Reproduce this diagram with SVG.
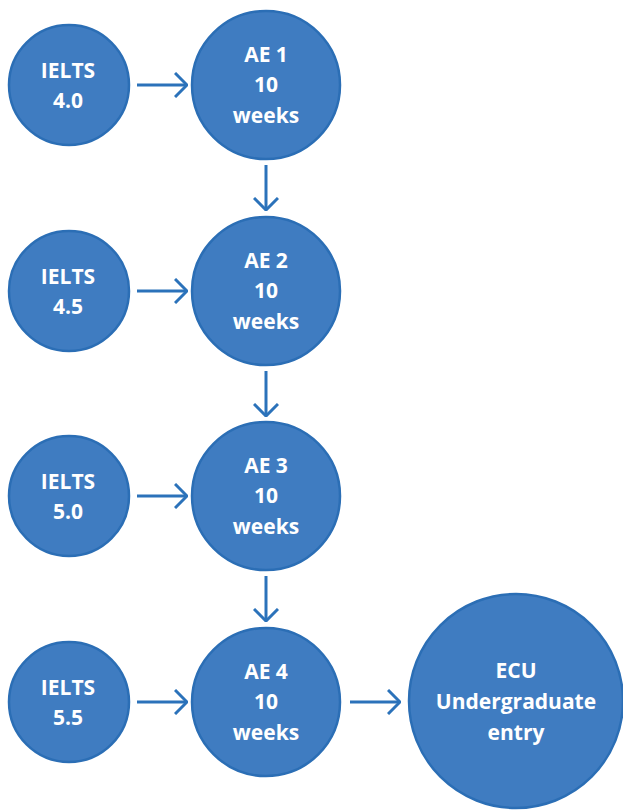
<svg xmlns="http://www.w3.org/2000/svg" width="623" height="810" viewBox="0 0 623 810">
<style>
.n{fill:#3f7cc1;stroke:#2b6eb5;stroke-width:2.5}
.t{font-family:"Open Sans",sans-serif;font-weight:700;font-size:21px;fill:#fff;text-anchor:middle}
.c{stroke:#2b72ba;stroke-width:3;fill:none}
</style>
<defs>
<marker id="a" viewBox="0 0 14 26" refX="13" refY="13" markerWidth="14" markerHeight="26" markerUnits="userSpaceOnUse" orient="auto">
<path d="M1,1 L13,13 L1,25" fill="none" stroke="#2b72ba" stroke-width="3"/>
</marker>
</defs>
<g id="connectors">
<line class="c" x1="137" y1="85" x2="187" y2="85" marker-end="url(#a)"/>
<line class="c" x1="137" y1="291" x2="187" y2="291" marker-end="url(#a)"/>
<line class="c" x1="137" y1="496" x2="187" y2="496" marker-end="url(#a)"/>
<line class="c" x1="137" y1="702" x2="187" y2="702" marker-end="url(#a)"/>
<line class="c" x1="350" y1="702" x2="400" y2="702" marker-end="url(#a)"/>
<line class="c" x1="266" y1="165" x2="266" y2="210" marker-end="url(#a)"/>
<line class="c" x1="266" y1="371" x2="266" y2="416" marker-end="url(#a)"/>
<line class="c" x1="266" y1="576" x2="266" y2="621" marker-end="url(#a)"/>
</g>
<g id="ielts40"><circle class="n" cx="69" cy="85" r="60"/><text class="t" x="68" y="78">IELTS</text><text class="t" x="68" y="108">4.0</text></g>
<g id="ielts45"><circle class="n" cx="69" cy="291" r="60"/><text class="t" x="68" y="284">IELTS</text><text class="t" x="68" y="314">4.5</text></g>
<g id="ielts50"><circle class="n" cx="69" cy="496" r="60"/><text class="t" x="68" y="489">IELTS</text><text class="t" x="68" y="519">5.0</text></g>
<g id="ielts55"><circle class="n" cx="69" cy="702" r="60"/><text class="t" x="68" y="695">IELTS</text><text class="t" x="68" y="725">5.5</text></g>
<g id="ae1"><circle class="n" cx="266" cy="85" r="74"/><text class="t" x="266" y="62">AE 1</text><text class="t" x="266" y="92">10</text><text class="t" x="266" y="123">weeks</text></g>
<g id="ae2"><circle class="n" cx="266" cy="291" r="74"/><text class="t" x="266" y="268">AE 2</text><text class="t" x="266" y="298">10</text><text class="t" x="266" y="329">weeks</text></g>
<g id="ae3"><circle class="n" cx="266" cy="496" r="74"/><text class="t" x="266" y="473">AE 3</text><text class="t" x="266" y="503">10</text><text class="t" x="266" y="534">weeks</text></g>
<g id="ae4"><circle class="n" cx="266" cy="702" r="74"/><text class="t" x="266" y="679">AE 4</text><text class="t" x="266" y="709">10</text><text class="t" x="266" y="740">weeks</text></g>
<g id="ecu"><circle class="n" cx="516" cy="701" r="107"/><text class="t" x="516" y="678">ECU</text><text class="t" x="516" y="709">Undergraduate</text><text class="t" x="516" y="740">entry</text></g>
</svg>
